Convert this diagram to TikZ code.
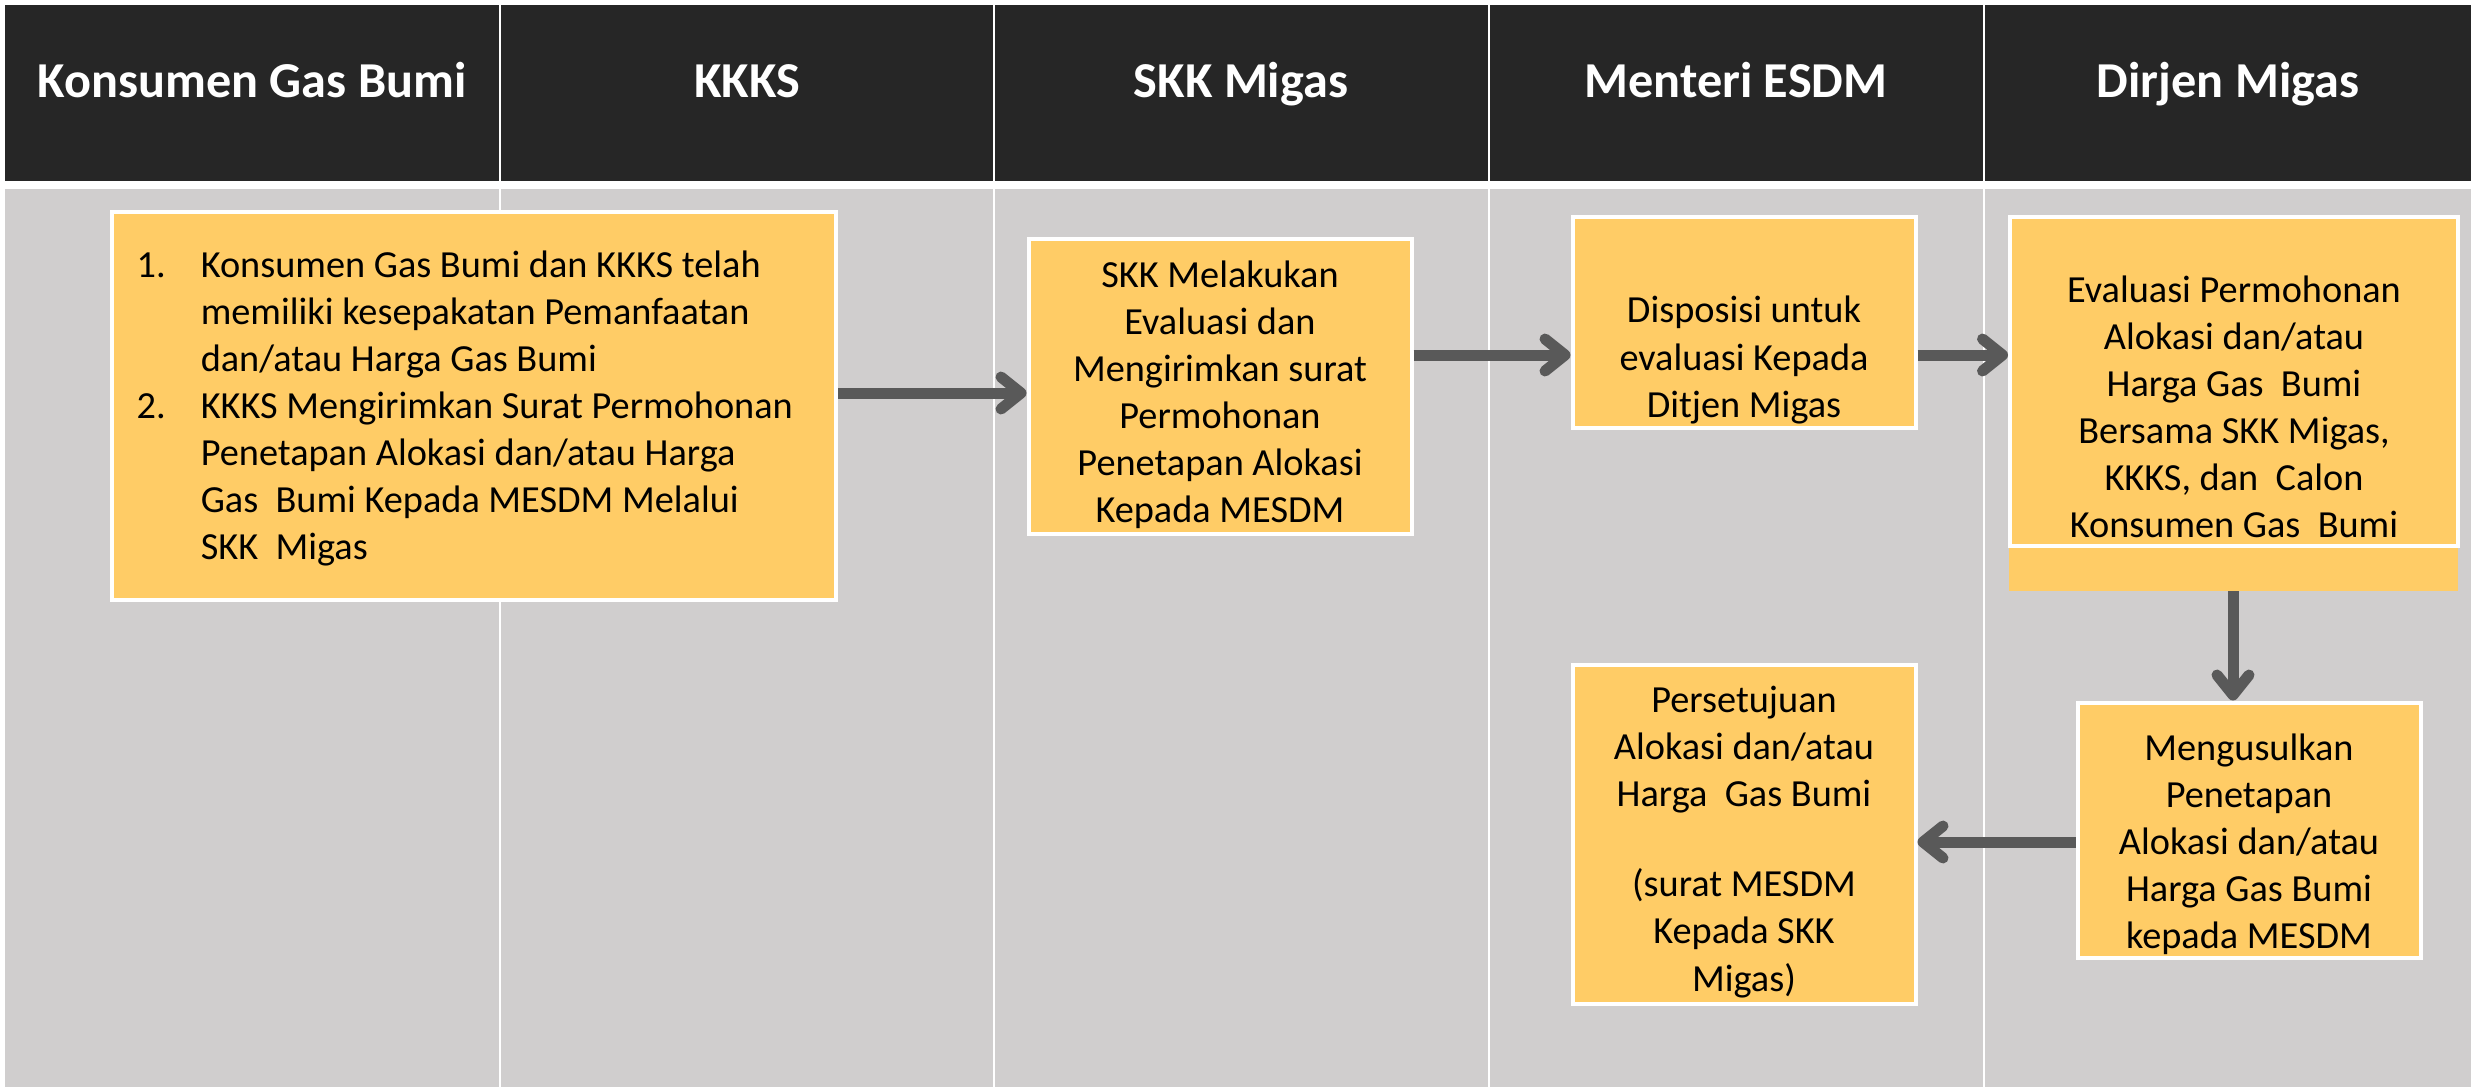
\documentclass[tikz,border=0pt]{standalone}
\usepackage{fontspec}
\setmainfont{Carlito}
\usetikzlibrary{arrows.meta}
\definecolor{headbg}{HTML}{262626}
\definecolor{lanebg}{HTML}{D0CECE}
\definecolor{stepfill}{HTML}{FFCC66}
\definecolor{flowgray}{HTML}{595959}
\begin{document}
\begin{tikzpicture}[x=0.1mm,y=-0.1mm,
    lanehead/.style={text=white,inner sep=0pt,anchor=base,font=\fontsize{14.3}{16}\selectfont\bfseries},
    stepbox/.style={draw=white,line width=0.4mm,fill=stepfill,inner sep=0pt},
    steptext/.style={align=center,inner sep=0pt,font=\fontsize{10.9}{13.4}\selectfont},
    flow/.style={draw=flowgray,line width=1.1mm,-{Straight Barb[length=2mm,width=3.2mm,round]}}]
        \useasboundingbox (0,0) rectangle (2471,1087);
        % header band and swimlanes
        \fill[headbg] (5,5) rectangle (2471,181);
        \fill[lanebg] (5,189) rectangle (2471,1087);
        \draw[white,line width=0.2mm] (500,5) -- (500,181) (994,5) -- (994,181)
            (1489,5) -- (1489,181) (1984,5) -- (1984,181);
        \draw[white,line width=0.2mm] (500,189) -- (500,1087) (994,189) -- (994,1087)
            (1489,189) -- (1489,1087) (1984,189) -- (1984,1087);
        \node[lanehead] (konsumen) at (252,97) {Konsumen Gas Bumi};
        \node[lanehead] (kkks) at (747,97) {KKKS};
        \node[lanehead] (skk) at (1241,97) {SKK Migas};
        \node[lanehead] (menteri) at (1736,97) {Menteri ESDM};
        \node[lanehead] (dirjen) at (2228,97) {Dirjen Migas};

        % steps
        \node[stepbox,minimum width=72.4mm,minimum height=38.8mm] (mohon) at (474,406) {};
        \node[inner sep=0pt,anchor=west,font=\fontsize{10.9}{13.4}\selectfont] (mohontext) at (136,409) {%
            \begin{tabular}{@{}l@{\hspace{3.5mm}}l@{}}
            1. & Konsumen Gas Bumi dan KKKS telah\\
               & memiliki kesepakatan Pemanfaatan\\
               & dan/atau Harga Gas Bumi\\
            2. & KKKS Mengirimkan Surat Permohonan\\
               & Penetapan Alokasi dan/atau Harga\\
               & Gas~ Bumi Kepada MESDM Melalui\\
               & SKK~ Migas
            \end{tabular}};

        \node[stepbox,minimum width=38.3mm,minimum height=29.5mm] (evalskk) at (1220,386) {};
        \node[steptext] (evalskktext) at (1220,395) {SKK Melakukan\\Evaluasi dan\\Mengirimkan surat\\Permohonan\\Penetapan Alokasi\\Kepada MESDM};

        \node[stepbox,minimum width=34.3mm,minimum height=21.1mm] (dispo) at (1744,322) {};
        \node[steptext] (dispotext) at (1744,360) {Disposisi untuk\\evaluasi Kepada\\Ditjen Migas};

        \node[fill=stepfill,inner sep=0pt,minimum width=44.9mm,minimum height=37.1mm] (evalbase) at (2233,405) {};
        \node[stepbox,minimum width=44.8mm,minimum height=32.9mm] (evaldirjen) at (2234,381) {};
        \node[steptext] (evaldirjentext) at (2234,407) {Evaluasi Permohonan\\Alokasi dan/atau\\Harga Gas~ Bumi\\Bersama SKK Migas,\\KKKS, dan~ Calon\\Konsumen Gas~ Bumi};

        \node[stepbox,minimum width=34.3mm,minimum height=25.5mm] (usul) at (2249,830) {};
        \node[steptext] (usultext) at (2249,844) {Mengusulkan\\Penetapan\\Alokasi dan/atau\\Harga Gas Bumi\\kepada MESDM};

        \node[stepbox,minimum width=34.3mm,minimum height=33.9mm] (setuju) at (1744,834) {};
        \node[steptext] (setujutext) at (1744,842) {Persetujuan\\Alokasi dan/atau\\Harga~ Gas Bumi\\[12.2pt](surat MESDM\\Kepada SKK\\Migas)};

        % connectors
        \coordinate (rowa) at (0,393);
        \coordinate (rowb) at (0,355);
        \coordinate (rowc) at (0,842);
        \draw[flow] (mohon.east |- rowa) -- (evalskk.west |- rowa);
        \draw[flow] (evalskk.east |- rowb) -- (dispo.west |- rowb);
        \draw[flow] (dispo.east |- rowb) -- (evaldirjen.west |- rowb);
        \draw[flow] (evalbase.south) -- (evalbase.south |- usul.north);
        \draw[flow] (usul.west |- rowc) -- (setuju.east |- rowc);
\end{tikzpicture}
\end{document}
